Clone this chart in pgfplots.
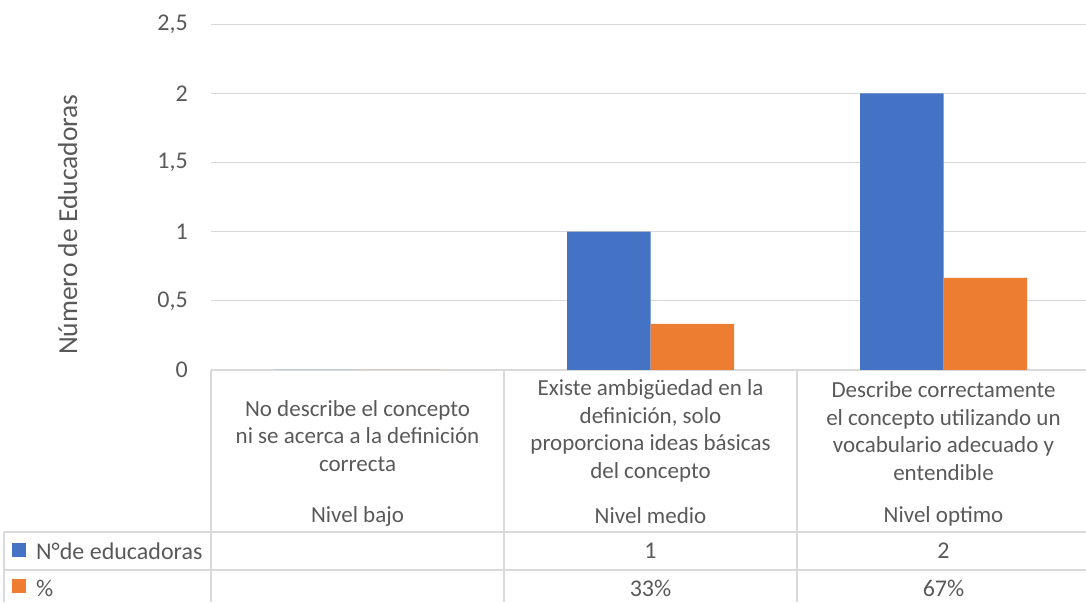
\documentclass[border=0pt]{standalone}
\usepackage{fontspec}
\setmainfont{Carlito}
\usepackage{pgfplots}
\pgfplotsset{compat=1.18}
\definecolor{barblue}{HTML}{4472C4}
\definecolor{barorange}{HTML}{ED7D31}
\definecolor{txt}{HTML}{595959}
\definecolor{gridc}{HTML}{D9D9D9}
\begin{document}
\begin{tikzpicture}[x=1pt, y=1pt, font=\fontsize{24}{27.5}\selectfont]
\useasboundingbox (0,0) rectangle (1086,602);
\begin{axis}[
    at={(211pt,232pt)}, anchor=south west,
    scale only axis,
    width=879pt, height=345.8pt,
    xmin=-0.5, xmax=2.5,
    ymin=0, ymax=2.5,
    ybar=0pt, bar width=0.285,
    xtick=\empty,
    ytick={0,0.5,1,1.5,2,2.5},
    ymajorgrids,
    grid style={gridc, line width=1.3pt},
    axis line style={draw=none},
    major tick length=0pt,
    /pgf/number format/use comma,
    /pgf/number format/assume math mode=true,
    yticklabel style={anchor=east, inner sep=0pt, xshift=-23pt, text=txt,
        font=\fontsize{24}{27.5}\selectfont},
    ylabel={Número de Educadoras},
    ylabel style={at={(axis description cs:-0.163,0.42)}, anchor=center, text=txt,
        font=\fontsize{27.5}{30}\selectfont},
    clip=false,
]
\addplot[fill=barblue, draw=none] coordinates {(0,0) (1,1) (2,2)};
\addplot[fill=barorange, draw=none] coordinates {(0,0) (1,0.3333) (2,0.6667)};
\end{axis}

% data table lines
\draw[gridc, line width=1.3pt] (4,70) -- (1086,70);
\draw[gridc, line width=1.3pt] (4,32) -- (1086,32);
\draw[gridc, line width=1.3pt] (211,232) -- (211,0);
\draw[gridc, line width=1.3pt] (504,232) -- (504,0);
\draw[gridc, line width=1.3pt] (797,232) -- (797,0);
\draw[gridc, line width=1.3pt] (4,70) -- (4,0);

% category labels
\begin{scope}[every node/.style={text=txt, align=center, font=\fontsize{23}{27.5}\selectfont}]
\node at (357.5,166) {No describe el concepto\\ni se acerca a la definición\\correcta};
\node at (650.5,171) {Existe ambigüedad en la\\definición, solo\\proporciona ideas básicas\\del concepto};
\node at (943.5,171) {Describe correctamente\\el concepto utilizando un\\vocabulario adecuado y\\entendible};
\node at (357.5,86) {Nivel bajo};
\node at (650.5,86) {Nivel medio};
\node at (943.5,86) {Nivel optimo};
\end{scope}
% table rows
\begin{scope}[every node/.style={text=txt}]
\node[anchor=west, inner sep=0pt] at (36,51) {N°de educadoras};
\node[anchor=west, inner sep=0pt] at (36,14) {\%};
\node at (650.5,51) {1};
\node at (943.5,51) {2};
\node at (650.5,14) {33\%};
\node at (943.5,14) {67\%};
\end{scope}
\fill[barblue] (12,45) rectangle (26,59);
\fill[barorange] (12,9) rectangle (26,23);
\end{tikzpicture}
\end{document}
